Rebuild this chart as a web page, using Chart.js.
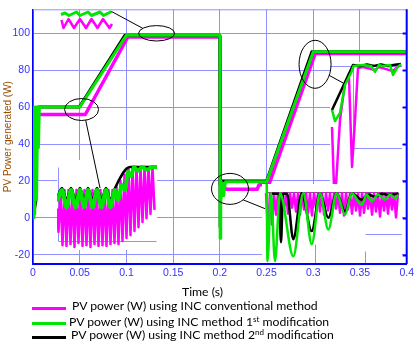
<!DOCTYPE html>
<html>
<head>
<meta charset="utf-8">
<script src="https://cdn.jsdelivr.net/npm/chart.js@4.4.0/dist/chart.umd.min.js"></script>
<style>
  html, body { margin: 0; padding: 0; background: #fff; }
  #wrap { position: relative; width: 417px; height: 343px; overflow: hidden; font-family: Lato, sans-serif; color: #000; }
  canvas { position: absolute; }
  .txt { position: absolute; font-size: 12.2px; line-height: 14px; white-space: nowrap; }
  .txt sup { font-size: 8px; vertical-align: 4px; line-height: 0; }
  .sw { position: absolute; left: 32px; width: 34px; height: 3px; }
</style>
</head>
<body>
<div id="wrap">
  <canvas id="mainChart" width="417" height="343" style="left:0;top:0"></canvas>
  <canvas id="insetA" width="58" height="24" style="left:58px;top:8px"></canvas>
  <canvas id="insetB" width="100" height="90" style="left:57px;top:160px;background:#fff"></canvas>
  <canvas id="insetC" width="72" height="125" style="left:330px;top:62px;background:#fff"></canvas>
  <canvas id="insetD" width="140" height="79" style="left:262px;top:184px;background:#fff"></canvas>
  <canvas id="overlay" width="417" height="343" style="left:0;top:0;pointer-events:none"></canvas>

  <div class="txt" style="left:182px;top:285px">Time (s)</div>
  <div class="sw" style="top:307px;background:#ff00ff"></div>
  <div class="txt" style="left:72px;top:299px">PV power (W) using INC conventional method</div>
  <div class="sw" style="top:322px;background:#00e600"></div>
  <div class="txt" style="left:69px;top:315px">PV power (W) using INC method 1<sup>st</sup> modification</div>
  <div class="sw" style="top:336px;background:#000"></div>
  <div class="txt" style="left:71px;top:328px">PV power (W) using INC method 2<sup>nd</sup> modification</div>
</div>
<script>
const MAGENTA = "#ff00ff";
const GREEN = "#00e600";
const BLACK = "#000000";
const GRID = "#9090ff";
const AXIS = "#0000ff";
const TICK = "#3333ff";

// --- main plot: PV power vs time ---
const xTickValues = [0, 0.05, 0.1, 0.15, 0.2, 0.25, 0.3, 0.35, 0.4];
const yTickValues = [-20, 0, 20, 40, 60, 80, 100];

const timeConv = [0, 0.0015, 0.0025, 0.004, 0.056, 0.1015, 0.2, 0.2004, 0.207, 0.24, 0.242, 0.2525, 0.302, 0.4];
const powerConv = [0, 56, 25, 56, 56, 98, 98, 18, 15.5, 15.5, 18, 18, 89, 89];

const timeMod1 = [0, 0.001, 0.0018, 0.003, 0.0038, 0.005, 0.0058, 0.0068, 0.05, 0.1, 0.2, 0.2003, 0.2007, 0.2012, 0.2025, 0.204, 0.206, 0.25, 0.3, 0.4];
const powerMod1 = [0, 60, 2, 60, 10, 60, 38, 60, 60, 99, 99, -11, 20, 8, 19, 12, 19.5, 19.5, 90, 90];

const timeMod2 = [0, 0.003, 0.0033, 0.0036, 0.004, 0.0044, 0.006, 0.0495, 0.0985, 0.2, 0.2003, 0.2007, 0.25, 0.2985, 0.4];
const powerMod2 = [0, 9, 40, 22, 52, 38, 60, 60, 99, 99, -5, 20, 20, 90, 90];

// --- inset A (zoom of the 100 W plateau), time in ms ---
const insetATimeConv = [140.7, 141.1, 142.1, 143.2, 144.4, 145.6, 146.7, 147.9, 149.0, 150.3, 150.8];
const insetAPowerConv = [99.4, 98.6, 99.5, 98.6, 99.5, 98.6, 99.5, 98.6, 99.5, 98.6, 99.0];
const insetATimeMod1 = [140.6, 141.4, 142.2, 143.7, 144.4, 146.0, 146.7, 148.4, 149.1, 150.7];
const insetAPowerMod1 = [99.95, 100.1, 99.85, 100.2, 99.85, 100.2, 99.85, 100.2, 99.85, 100.25];

// --- inset B (zoom near 0.05 s), time in ms ---
const insetBTimeConv = [44.0, 44.3, 44.7, 45.1, 45.5, 45.9, 46.3, 46.7, 47.1, 47.5, 47.9, 48.3, 48.7, 49.1, 49.5, 49.9,
  50.3, 50.7, 51.1, 51.5, 51.9, 52.3, 52.7, 53.1, 53.5, 53.9, 54.3, 54.7, 55.1, 55.5, 55.9, 56.3, 56.7, 57.1, 57.5,
  57.9, 58.3, 58.7, 59.1, 59.5, 59.9, 60.3, 60.7, 61.1, 61.5, 61.9, 62.3, 62.7, 63.1, 63.5];
const insetBPowerConv = [52.0, 45.2, 57.3, 41.4, 57.3, 41.2, 57.3, 41.7, 57.3, 40.9, 57.3, 42.0, 57.3, 41.2, 57.3, 41.4,
  57.3, 40.9, 57.3, 41.7, 57.3, 41.2, 57.3, 41.4, 57.3, 41.2, 57.3, 41.7, 57.3, 42.0, 58.5, 41.7, 60.0, 42.6, 61.7,
  43.5, 63.4, 44.3, 64.0, 45.5, 64.0, 46.6, 64.0, 48.1, 64.0, 49.2, 64.0, 50.4, 64.0, 51.6];
const insetBTimeMod1 = [44.0, 45.0, 45.9, 46.8, 47.7, 48.6, 49.4, 50.2, 51.1, 52.0, 52.9, 53.8, 54.7, 55.6, 56.2, 57.0,
  57.6, 58.2, 58.8, 59.4, 60.2, 61.0, 62.0, 63.0, 64.0];
const insetBPowerMod1 = [54.0, 57.3, 52.4, 57.3, 52.4, 57.3, 52.4, 57.3, 52.4, 57.3, 52.4, 57.3, 52.4, 57.3, 54.4, 58.8,
  57.3, 62.5, 61.3, 64.0, 62.8, 64.0, 63.2, 64.0, 64.0];
const insetBTimeMod2 = [44.0, 45.0, 45.9, 46.8, 47.7, 48.6, 49.4, 50.2, 51.1, 52.0, 52.9, 53.8, 54.7, 55.6, 58.6, 64.0];
const insetBPowerMod2 = [55.0, 57.9, 54.5, 57.9, 54.5, 57.9, 54.5, 57.9, 54.5, 57.9, 54.5, 57.9, 54.5, 57.9, 64.0, 64.0];

// --- inset C (zoom near 0.3 s), time in ms ---
const insetCTimeConv = [295.4, 295.8, 296.2, 297.0, 298.0, 298.8, 299.4, 300.0, 300.6, 301.6, 304.0, 304.8, 307.6, 308.4, 309.2];
const insetCPowerConv = [66.4, 40.0, 40.9, 69.5, 85.8, 88.0, 48.8, 69.5, 92.4, 92.8, 91.5, 92.8, 91.0, 92.8, 93.7];
const insetCTimeMod1 = [295.4, 296.0, 297.0, 298.0, 299.3, 299.7, 301.6, 303.2, 304.0, 304.8, 305.6, 307.0, 307.6, 308.4, 309.2];
const insetCPowerMod1 = [73.9, 69.0, 72.6, 84.9, 90.7, 93.2, 93.7, 93.2, 90.7, 93.7, 93.2, 93.7, 89.3, 92.4, 94.1];
const insetCTimeMod2 = [295.4, 299.6, 301.0, 302.4, 303.8, 305.2, 306.6, 308.0, 309.2];
const insetCPowerMod2 = [73.9, 93.7, 93.2, 93.9, 93.3, 93.9, 93.2, 93.8, 94.1];

// --- inset D (zoom after 0.25 s), time in ms ---
const insetDTimeConv = [246.8, 247.2, 247.6, 248.0, 248.4, 248.8, 249.2, 249.6, 250.0, 250.4, 250.8, 251.2, 251.6, 252.0,
  252.4, 252.8, 253.2, 253.6, 254.0, 254.4, 254.8, 255.2, 255.6, 256.0, 256.4, 256.8, 257.2, 257.6, 258.0, 258.4, 258.8,
  259.2, 259.6, 260.0, 260.4, 260.8, 261.2, 261.6, 262.0, 262.4, 262.8, 263.2, 263.6, 264.0, 264.4, 264.8, 265.2, 265.6,
  266.0, 266.4, 266.8, 267.2, 267.6, 268.0, 268.4, 268.8, 269.2, 269.6, 270.0, 270.4, 270.8, 271.2, 271.6, 272.0, 272.4,
  272.8, 273.2];
const insetDPowerConv = [22.1, 10.6, 22.1, 12.2, 22.1, 15.3, 22.1, 16.3, 22.1, 16.9, 22.1, 15.6, 22.1, 17.5,
  22.1, 16.3, 22.1, 15.3, 22.1, 16.9, 22.1, 15.9, 22.1, 15.0, 22.1, 17.5, 22.1, 16.3, 22.1, 15.3, 22.1,
  16.6, 22.1, 15.6, 22.1, 17.2, 22.1, 15.9, 22.1, 15.0, 22.1, 16.9, 22.1, 15.6, 22.1, 16.6, 22.1, 15.0,
  22.1, 15.9, 22.1, 17.2, 22.1, 15.3, 22.1, 16.3, 22.1, 14.7, 22.1, 16.6, 22.1, 15.6, 22.1, 16.9, 22.1,
  14.4, 22.1];
const insetDTimeMod1 = [246.94, 247.1, 247.8, 248.6, 249.6, 252.26, 254.26, 255.94, 257.6, 259.26, 260.94, 262.6, 263.94,
  265.94, 266.94, 267.94, 269.2, 270.6, 271.6, 272.6, 273.26];
const insetDPowerMod1 = [25.0, 0.6, 22.1, 0.6, 22.1, 2.1, 22.1, 5.9, 22.1, 10.6, 22.1, 15.3, 22.1,
  18.4, 21.6, 19.5, 21.6, 20.0, 21.6, 20.5, 21.6];
const insetDTimeMod2 = [248.0, 249.4, 249.8, 250.2, 251.0, 252.26, 253.94, 255.94, 257.6, 259.26, 260.94, 262.6, 263.94,
  265.94, 267.2, 268.6, 269.94, 271.2, 273.26];
const insetDPowerMod2 = [21.9, 21.9, 6.6, 21.9, 21.9, 7.5, 22.1, 10.1, 22.1, 14.3, 22.1, 16.3, 22.1,
  20.0, 21.7, 21.0, 21.9, 21.6, 21.9];

function toPoints(ts, vs) {
  return ts.map((t, i) => ({ x: t, y: vs[i] }));
}

// box around the plot with inward ticks on the right side
const framePlugin = {
  id: "frame",
  afterDraw(chart) {
    const { ctx, chartArea: a, scales: { y } } = chart;
    ctx.save();
    ctx.strokeStyle = GRID;
    ctx.lineWidth = 1;
    ctx.beginPath();
    ctx.moveTo(a.left, a.top + 0.5);
    ctx.lineTo(a.right, a.top + 0.5);
    ctx.stroke();
    ctx.strokeStyle = AXIS;
    ctx.lineWidth = 2;
    ctx.beginPath();
    ctx.moveTo(a.right, a.top);
    ctx.lineTo(a.right, a.bottom);
    y.ticks.forEach(t => {
      const py = Math.round(y.getPixelForValue(t.value)) + 0.5;
      ctx.moveTo(a.right - 4, py);
      ctx.lineTo(a.right, py);
    });
    ctx.stroke();
    ctx.restore();
  }
};

const mainChart = new Chart(document.getElementById("mainChart"), {
  type: "line",
  data: {
    datasets: [
      { label: "PV power (W) using INC conventional method", data: toPoints(timeConv, powerConv),
        borderColor: MAGENTA, borderWidth: 3.5, order: 3 },
      { label: "PV power (W) using INC method 1st modification", data: toPoints(timeMod1, powerMod1),
        borderColor: GREEN, borderWidth: 3, order: 1 },
      { label: "PV power (W) using INC method 2nd modification", data: toPoints(timeMod2, powerMod2),
        borderColor: BLACK, borderWidth: 3, order: 2 }
    ]
  },
  options: {
    responsive: false,
    animation: false,
    events: [],
    layout: { padding: { top: 3.5, right: 9, bottom: 57, left: 0 } },
    plugins: { legend: { display: false }, tooltip: { enabled: false } },
    elements: { point: { radius: 0 }, line: { tension: 0, borderJoinStyle: "round" } },
    scales: {
      x: {
        type: "linear", min: 0, max: 0.4,
        afterBuildTicks: s => { s.ticks = xTickValues.map(v => ({ value: v })); },
        afterFit: s => { s.height = 22; },
        ticks: { color: TICK, padding: 3, maxRotation: 0, autoSkip: false,
          font: { family: "Liberation Sans", size: 10.5 }, callback: v => String(v) },
        grid: { color: GRID, drawTicks: false },
        border: { color: AXIS, width: 2 }
      },
      y: {
        min: -25, max: 113,
        afterBuildTicks: s => { s.ticks = yTickValues.map(v => ({ value: v })); },
        afterFit: s => { s.width = 33; },
        ticks: { color: TICK, padding: 3, font: { family: "Liberation Sans", size: 10.5 } },
        grid: { color: GRID, drawTicks: false },
        border: { color: AXIS, width: 1.5 },
        title: { display: true, text: "PV Power generated (W)", color: "#994d00",
          font: { family: "Liberation Sans", size: 10 }, padding: { top: 2, bottom: 0 } }
      }
    }
  },
  plugins: [framePlugin]
});

// helper lines inside the insets, given in the inset's own data units
const insetLinesPlugin = {
  id: "insetLines",
  beforeDatasetsDraw(chart, args, opts) {
    const { ctx, scales: { x, y } } = chart;
    ctx.save();
    ctx.lineWidth = 1;
    (opts.lines || []).forEach(l => {
      ctx.strokeStyle = l.color || GRID;
      ctx.beginPath();
      ctx.moveTo(Math.round(x.getPixelForValue(l.x1)) + 0.5, Math.round(y.getPixelForValue(l.y1)) + 0.5);
      ctx.lineTo(Math.round(x.getPixelForValue(l.x2)) + 0.5, Math.round(y.getPixelForValue(l.y2)) + 0.5);
      ctx.stroke();
    });
    ctx.restore();
  }
};

function makeInset(id, range, datasets, lines) {
  return new Chart(document.getElementById(id), {
    type: "line",
    data: { datasets },
    options: {
      responsive: false,
      animation: false,
      events: [],
      layout: { padding: 0 },
      plugins: { legend: { display: false }, tooltip: { enabled: false }, insetLines: { lines: lines } },
      elements: { point: { radius: 0 }, line: { tension: 0, borderJoinStyle: "round" } },
      scales: {
        x: { type: "linear", display: false, min: range[0], max: range[1] },
        y: { display: false, min: range[2], max: range[3] }
      }
    },
    plugins: [insetLinesPlugin]
  });
}

const insetA = makeInset("insetA", [140, 151.6, 98.2, 100.6], [
  { data: toPoints(insetATimeConv, insetAPowerConv), borderColor: MAGENTA, borderWidth: 2.5, order: 3 },
  { data: toPoints(insetATimeMod1, insetAPowerMod1), borderColor: GREEN, borderWidth: 3, order: 1 }
], []);

const insetB = makeInset("insetB", [44, 64, 40, 66], [
  { data: toPoints(insetBTimeConv, insetBPowerConv), borderColor: MAGENTA, borderWidth: 2.5, order: 3 },
  { data: toPoints(insetBTimeMod1, insetBPowerMod1), borderColor: GREEN, borderWidth: 4, order: 1,
    cubicInterpolationMode: "monotone" },
  { data: toPoints(insetBTimeMod2, insetBPowerMod2), borderColor: BLACK, borderWidth: 2.5, order: 2,
    cubicInterpolationMode: "monotone" }
], [
  { x1: 44.2, y1: 64, x2: 44.2, y2: 42.6 },
  { x1: 56, y1: 55, x2: 56, y2: 42.6 },
  { x1: 44.2, y1: 42.6, x2: 63.8, y2: 42.6 }
]);

const insetC = makeInset("insetC", [295, 309.4, 40, 95], [
  { data: toPoints(insetCTimeConv, insetCPowerConv), borderColor: MAGENTA, borderWidth: 2.5, order: 3 },
  { data: toPoints(insetCTimeMod1, insetCPowerMod1), borderColor: GREEN, borderWidth: 2.5, order: 1 },
  { data: toPoints(insetCTimeMod2, insetCPowerMod2), borderColor: BLACK, borderWidth: 2.5, order: 2 }
], [
  { x1: 295, y1: 93.2, x2: 309.4, y2: 93.2 },
  { x1: 299.6, y1: 93.7, x2: 299.6, y2: 57.2 },
  { x1: 299.6, y1: 57.2, x2: 309.4, y2: 57.2 }
]);

const insetD = makeInset("insetD", [246, 274, 0, 25], [
  { data: toPoints(insetDTimeConv, insetDPowerConv), borderColor: MAGENTA, borderWidth: 2.5, order: 3 },
  { data: toPoints(insetDTimeMod1, insetDPowerMod1), borderColor: GREEN, borderWidth: 2.5, order: 1,
    cubicInterpolationMode: "monotone" },
  { data: toPoints(insetDTimeMod2, insetDPowerMod2), borderColor: BLACK, borderWidth: 2.5, order: 2,
    cubicInterpolationMode: "monotone" }
], [
  { x1: 247, y1: 22.4, x2: 273.2, y2: 22.4, color: "#666666" },
  { x1: 256.6, y1: 5.9, x2: 256.6, y2: 0 },
  { x1: 266.6, y1: 3.75, x2: 266.6, y2: 0 },
  { x1: 266.6, y1: 9.1, x2: 274, y2: 9.1 }
]);

// ellipses on the main plot and the lines joining them to their insets
const callouts = [
  { t: 0.1323, p: 100, rx: 18, ry: 7.7, angle: -140, inset: insetA, at: [150.7, 100.25] },
  { t: 0.052, p: 58.7, rx: 17, ry: 11, angle: 76, inset: insetB, at: [52.6, 57.9] },
  { t: 0.3019, p: 83.2, rx: 16, ry: 24, angle: 27.6, inset: insetC, at: [297.6, 85.8] },
  { t: 0.2109, p: 15.7, rx: 18.5, ry: 15.5, angle: 45, inset: insetD, at: [246.6, 17.2] }
];

const octx = document.getElementById("overlay").getContext("2d");
octx.strokeStyle = "#000";
octx.lineWidth = 1;
callouts.forEach(c => {
  const cx = mainChart.scales.x.getPixelForValue(c.t);
  const cy = mainChart.scales.y.getPixelForValue(c.p);
  octx.beginPath();
  octx.ellipse(cx, cy, c.rx, c.ry, 0, 0, Math.PI * 2);
  octx.stroke();
  const a = c.angle * Math.PI / 180;
  const canvas = c.inset.canvas;
  const ex = canvas.offsetLeft + c.inset.scales.x.getPixelForValue(c.at[0]);
  const ey = canvas.offsetTop + c.inset.scales.y.getPixelForValue(c.at[1]);
  octx.beginPath();
  octx.moveTo(cx + c.rx * Math.cos(a), cy + c.ry * Math.sin(a));
  octx.lineTo(ex, ey);
  octx.stroke();
});
</script>
</body>
</html>
